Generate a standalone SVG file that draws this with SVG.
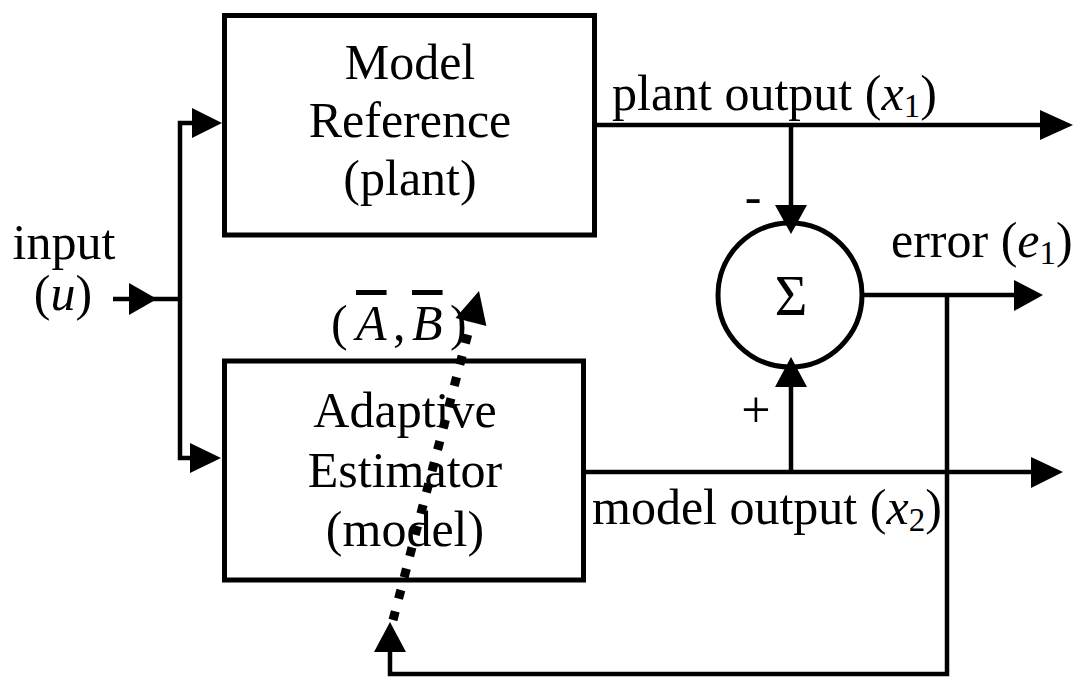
<svg xmlns="http://www.w3.org/2000/svg" width="1082" height="677" viewBox="0 0 1082 677">
<style>
text{font-family:"Liberation Serif","Times New Roman",serif;font-size:50px;fill:#000}
.c{text-anchor:middle}
.i{font-style:italic}
.sub{font-size:33px}
.box{fill:none;stroke:#000;stroke-width:5}
.ln{fill:none;stroke:#000;stroke-width:4.5}
.ah{fill:#000;stroke:none}
.dot{fill:none;stroke:#000;stroke-width:9;stroke-dasharray:9 13}
</style>
<rect x="0" y="0" width="1082" height="677" fill="#fff"/>
<g id="plant">
<rect class="box" x="224.5" y="15.5" width="370" height="219.5"/>
<text class="c" x="410" y="79">Model</text>
<text class="c" x="410" y="137">Reference</text>
<text class="c" x="410" y="195">(plant)</text>
</g>
<g id="estimator">
<rect class="box" x="224.5" y="361" width="359" height="219"/>
<text class="c" x="405" y="427">Adaptive</text>
<text class="c" x="405" y="487">Estimator</text>
<text class="c" x="405" y="546">(model)</text>
</g>
<g id="sum">
<circle class="box" cx="790" cy="295" r="72"/>
<text class="c" x="791" y="315" style="font-size:56px">Σ</text>
</g>
<g id="labels">
<text class="c" x="64" y="259">input</text>
<text class="c" x="63" y="310">(<tspan class="i">u</tspan>)</text>
<text x="612" y="110">plant output (<tspan class="i">x</tspan><tspan class="sub" dy="7">1</tspan><tspan dy="-7">)</tspan></text>
<text x="891" y="257">error (<tspan class="i">e</tspan><tspan class="sub" dy="7">1</tspan><tspan dy="-7">)</tspan></text>
<text x="592" y="524">model output (<tspan class="i">x</tspan><tspan class="sub" dy="7">2</tspan><tspan dy="-7">)</tspan></text>
<text class="c" x="753" y="213">-</text>
<text class="c" x="756" y="427" style="font-size:52px">+</text>
<text x="331" y="340">(</text>
<text class="i" x="356" y="340" style="text-decoration:overline">A</text>
<text x="393" y="340">,</text>
<text class="i" x="412" y="340" style="text-decoration:overline">B</text>
<text x="450" y="340">)</text>
</g>
<g id="connectors">
<polyline class="ln" points="113,299 180,299"/>
<polygon class="ah" points="129,283 157,299 129,315"/>
<polyline class="ln" points="192,123 180,123 180,458 191,458"/>
<polygon class="ah" points="192,108 222,123 192,138"/>
<polygon class="ah" points="190,443 221,458 190,473"/>
<polyline class="ln" points="596,125 1041,125"/>
<polygon class="ah" points="1040,110 1073,125 1040,140"/>
<polyline class="ln" points="791,125 791,207"/>
<polygon class="ah" points="775,205 807,205 791,234"/>
<polyline class="ln" points="864,295 1015,295"/>
<polygon class="ah" points="1014,280 1043,295 1014,311"/>
<polyline class="ln" points="947,295 947,674 390,674 390,650"/>
<polygon class="ah" points="374,652 406,652 390,622"/>
<polyline class="ln" points="586,472 1032,472"/>
<polygon class="ah" points="1031,457 1063,472 1031,488"/>
<polyline class="ln" points="791,472 791,385"/>
<polygon class="ah" points="775,387 807,387 791,357"/>
<line class="dot" x1="393" y1="620" x2="471" y2="322"/>
<polygon class="ah" points="479,291 486.4,326 455.5,317.9"/>
</g>
</svg>
